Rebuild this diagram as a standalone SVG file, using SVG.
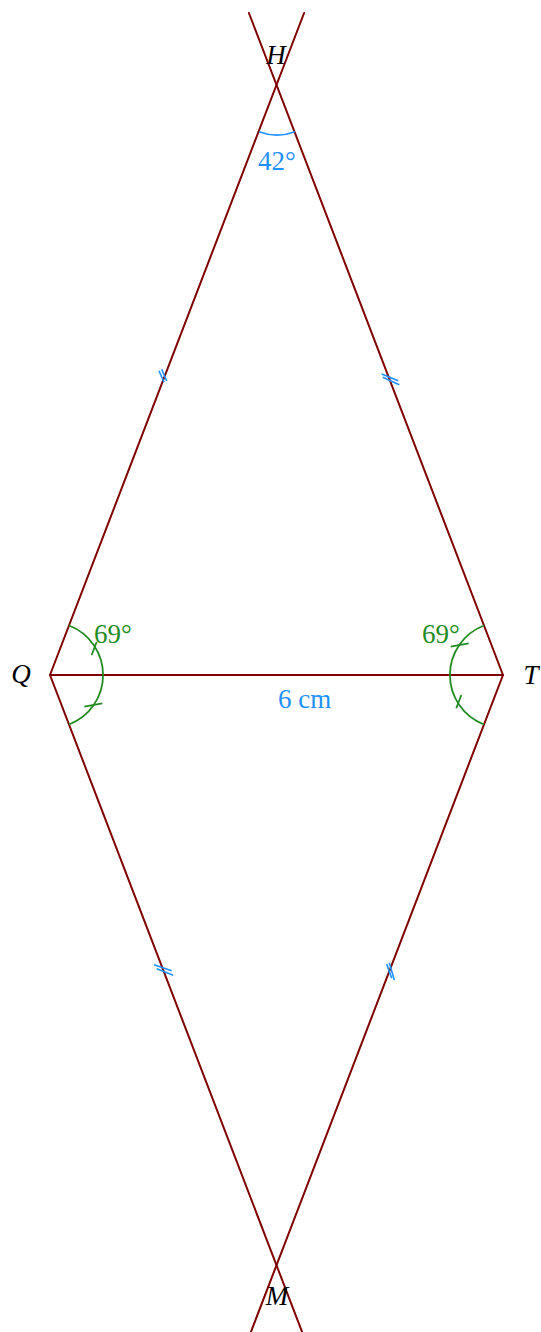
<svg xmlns="http://www.w3.org/2000/svg" width="541" height="1332" viewBox="0 0 541 1332">
<style>
.seg{stroke:#800000;stroke-width:2;fill:none;stroke-linecap:round}
.blue{stroke:#1e90ff;stroke-width:1.6;fill:none}
.green{stroke:#228b22;stroke-width:1.8;fill:none}
.lbl{font-family:"Liberation Serif",serif;font-style:italic;font-size:27px;fill:#000}
.bt{font-family:"Liberation Serif",serif;font-size:27px;fill:#1e90ff}
.gt{font-family:"Liberation Serif",serif;font-size:27px;fill:#228b22}
</style>
<rect width="541" height="1332" fill="#fff"/>
<g id="connectors">
<line class="seg" x1="50" y1="675" x2="304.1" y2="13"/>
<line class="seg" x1="503" y1="675" x2="248.9" y2="13"/>
<line class="seg" x1="50" y1="675" x2="503" y2="675"/>
<line class="seg" x1="50" y1="675" x2="302.5" y2="1333"/>
<line class="seg" x1="503" y1="675" x2="250.5" y2="1333"/>
</g>
<g id="marks">
<path class="blue" d="M259 131.7 A51 51 0 0 0 295 131.7"/>
<line class="blue" x1="159" y1="370.7" x2="164" y2="382.3"/>
<line class="blue" x1="161.7" y1="369.3" x2="166.7" y2="381"/>
<line class="blue" x1="381.7" y1="374" x2="398.3" y2="380.7"/>
<line class="blue" x1="382.7" y1="377.3" x2="399.3" y2="384.7"/>
<line class="blue" x1="154" y1="964.7" x2="171.7" y2="970.7"/>
<line class="blue" x1="156.7" y1="968.7" x2="173.3" y2="975.3"/>
<line class="blue" x1="386.7" y1="964" x2="391.7" y2="978.3"/>
<line class="blue" x1="389.3" y1="962.7" x2="394.3" y2="980"/>
<path class="green" d="M69 625.5 A53 53 0 0 1 69 724.5"/>
<line class="green" x1="91.7" y1="655" x2="96.7" y2="641.7"/>
<line class="green" x1="84.3" y1="706.7" x2="102.3" y2="703.3"/>
<path class="green" d="M484 625.5 A53 53 0 0 0 484 724.5"/>
<line class="green" x1="468.7" y1="643.3" x2="450.7" y2="646.7"/>
<line class="green" x1="461.3" y1="695" x2="456.3" y2="708.3"/>
</g>
<g id="H"><text class="lbl" x="276" y="64" text-anchor="middle">H</text></g>
<g id="Q"><text class="lbl" x="21" y="683" text-anchor="middle">Q</text></g>
<g id="T"><text class="lbl" x="531" y="684" text-anchor="middle">T</text></g>
<g id="M"><text class="lbl" x="277" y="1305" text-anchor="middle">M</text></g>
<g id="labels">
<text class="bt" x="258" y="170">42°</text>
<text class="bt" x="278" y="708">6 cm</text>
<text class="gt" x="94" y="643">69°</text>
<text class="gt" x="422" y="643">69°</text>
</g>
</svg>
